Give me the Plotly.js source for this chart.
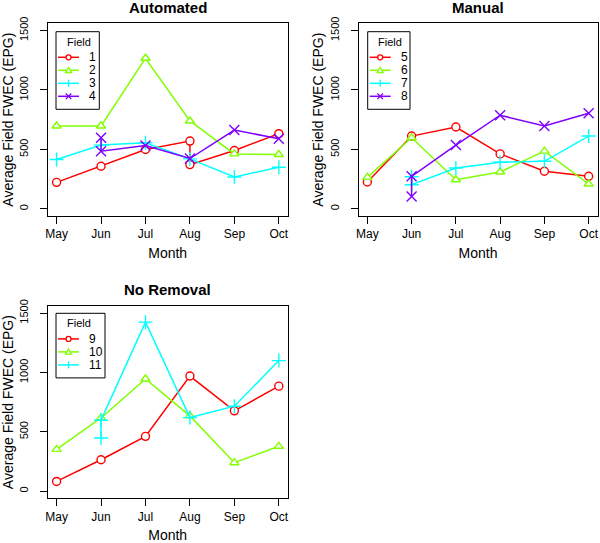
<!DOCTYPE html>
<html>
<head>
<meta charset="utf-8">
<script src="https://cdn.plot.ly/plotly-3.0.1.min.js"></script>
<style>html,body{margin:0;padding:0;background:#fff;}#chart{width:600px;height:543px;}</style>
</head>
<body>
<div id="chart"></div>
<script>
// ---- data ----
const months = ['May', 'Jun', 'Jul', 'Aug', 'Sep', 'Oct'];
const monthIdx = [1, 2, 3, 4, 5, 6];
const panelTitles = ['Automated', 'Manual', 'No Removal'];

// Automated
const f1x = [1, 2, 3, 4, 4, 5, 6];
const f1y = [223, 358, 499, 570, 372, 491, 632];
const f2x = [1, 2, 3, 4, 5, 6];
const f2y = [697, 697, 1266, 739, 462, 457];
const f3x = [1, 2, 3, 4, 5, 6];
const f3y = [415, 536, 556, 420, 268, 350];
const f4x = [2, 2, 3, 4, 5, 6];
const f4y = [598, 485, 532, 423, 663, 589];
// Manual
const f5x = [1, 2, 3, 4, 5, 6];
const f5y = [226, 612, 688, 462, 316, 274];
const f6x = [1, 2, 3, 4, 5, 6];
const f6y = [265, 598, 245, 310, 485, 209];
const f7x = [2, 2, 3, 4, 5, 6];
const f7y = [270, 203, 344, 392, 400, 612];
const f8x = [2, 2, 3, 4, 5, 6];
const f8y = [104, 274, 536, 787, 697, 804];
// No Removal
const f9x = [1, 2, 3, 4, 5, 6];
const f9y = [82, 265, 462, 970, 677, 885];
const f10x = [1, 2, 3, 4, 5, 6];
const f10y = [352, 617, 945, 634, 240, 378];
const f11x = [2, 2, 3, 4, 5, 6];
const f11y = [448, 598, 1424, 620, 716, 1100];

const yTicks = [0, 500, 1000, 1500];
const legendTitle = 'Field';
const panelFields = [['1', '2', '3', '4'], ['5', '6', '7', '8'], ['9', '10', '11']];

// ---- styles ----
const colors = ['#FF0000', '#80FF00', '#00FFFF', '#8000FF'];
const symbols = ['circle', 'triangle-up', 'cross-thin', 'x-thin'];
const W = 600, H = 543;
const fontFam = 'Liberation Sans, Arial, Helvetica, sans-serif';

function tr(name, x, y, k, xa, ya) {
  const filled = k < 2;
  return {
    type: 'scatter', mode: 'lines+markers', name: name,
    x: x, y: y, xaxis: xa, yaxis: ya, showlegend: false,
    line: {color: colors[k], width: 1.5},
    marker: {
      symbol: symbols[k], size: filled ? 8 : 10,
      color: filled ? '#ffffff' : colors[k],
      line: {color: colors[k], width: 1.4}
    }
  };
}

const data = [
  tr(panelFields[0][0], f1x, f1y, 0, 'x', 'y'),
  tr(panelFields[0][1], f2x, f2y, 1, 'x', 'y'),
  tr(panelFields[0][2], f3x, f3y, 2, 'x', 'y'),
  tr(panelFields[0][3], f4x, f4y, 3, 'x', 'y'),
  tr(panelFields[1][0], f5x, f5y, 0, 'x2', 'y2'),
  tr(panelFields[1][1], f6x, f6y, 1, 'x2', 'y2'),
  tr(panelFields[1][2], f7x, f7y, 2, 'x2', 'y2'),
  tr(panelFields[1][3], f8x, f8y, 3, 'x2', 'y2'),
  tr(panelFields[2][0], f9x, f9y, 0, 'x3', 'y3'),
  tr(panelFields[2][1], f10x, f10y, 1, 'x3', 'y3'),
  tr(panelFields[2][2], f11x, f11y, 2, 'x3', 'y3')
];

function xax(l, r, anchor) {
  return {
    anchor: anchor,
    domain: [l / W, r / W], range: [0.8, 6.2],
    tickmode: 'array', tickvals: monthIdx, ticktext: months,
    ticks: 'outside', ticklen: 7, tickcolor: '#000', tickwidth: 1,
    showline: true, linecolor: '#000', linewidth: 1, mirror: true,
    showgrid: false, zeroline: false,
    tickfont: {size: 12, color: '#000', family: fontFam},
    title: {text: 'Month', font: {size: 14, color: '#000', family: fontFam}, standoff: 7},
    automargin: false
  };
}
function yax(t, b, anchor) {
  return {
    anchor: anchor,
    domain: [1 - b / H, 1 - t / H], range: [-60, 1560],
    tickmode: 'array', tickvals: yTicks,
    ticks: 'outside', ticklen: 7, tickcolor: '#000', tickwidth: 1,
    tickangle: -90, ticklabelstandoff: 7,
    showline: true, linecolor: '#000', linewidth: 1, mirror: true,
    showgrid: false, zeroline: false,
    tickfont: {size: 11, color: '#000', family: fontFam},
    title: {text: 'Average Field FWEC (EPG)', font: {size: 14, color: '#000', family: fontFam}, standoff: 2},
    automargin: false
  };
}

// ---- hand-built legends (R style, compact) ----
const shapes = [];
const annotations = [];
const px = v => v / W, py = v => 1 - v / H;
function legendGlyph(k, cx, cy) {
  const c = colors[k];
  shapes.push({type: 'line', xref: 'paper', yref: 'paper', x0: px(cx - 10.5), x1: px(cx + 10.5), y0: py(cy), y1: py(cy), line: {color: c, width: 1.5}});
  if (k === 0) {
    shapes.push({type: 'circle', xref: 'paper', yref: 'paper', x0: px(cx - 2.5), x1: px(cx + 2.5), y0: py(cy + 2.5), y1: py(cy - 2.5), line: {color: c, width: 1.3}, fillcolor: '#fff'});
  } else if (k === 1) {
    shapes.push({type: 'path', xref: 'paper', yref: 'paper', path: `M ${px(cx - 3)} ${py(cy + 2.2)} L ${px(cx + 3)} ${py(cy + 2.2)} L ${px(cx)} ${py(cy - 3)} Z`, line: {color: c, width: 1.3}, fillcolor: '#fff'});
  } else if (k === 2) {
    shapes.push({type: 'path', xref: 'paper', yref: 'paper', path: `M ${px(cx)} ${py(cy - 3.5)} L ${px(cx)} ${py(cy + 3.5)}`, line: {color: c, width: 1.3}});
  } else {
    shapes.push({type: 'path', xref: 'paper', yref: 'paper', path: `M ${px(cx - 2.8)} ${py(cy - 2.8)} L ${px(cx + 2.8)} ${py(cy + 2.8)} M ${px(cx - 2.8)} ${py(cy + 2.8)} L ${px(cx + 2.8)} ${py(cy - 2.8)}`, line: {color: c, width: 1.3}});
  }
}
function buildLegend(fields, left, top, width) {
  const n = fields.length;
  const bottom = top + 25.6 + 13 * (n - 1) + 13;
  shapes.push({type: 'rect', xref: 'paper', yref: 'paper', x0: px(left), x1: px(left + width), y0: py(bottom), y1: py(top), line: {color: '#000', width: 1}, fillcolor: '#fff'});
  annotations.push({text: legendTitle, x: px(left + 22.5), y: py(top + 10), xref: 'paper', yref: 'paper', xanchor: 'center', yanchor: 'middle', showarrow: false, font: {size: 11, color: '#000', family: fontFam}});
  fields.forEach((f, i) => {
    const cy = top + 25.6 + 13 * i;
    legendGlyph(i, left + 12.5, cy);
    annotations.push({text: f, x: px(left + 31), y: py(cy), xref: 'paper', yref: 'paper', xanchor: 'left', yanchor: 'middle', showarrow: false, font: {size: 12, color: '#000', family: fontFam}});
  });
}
buildLegend(panelFields[0], 56, 31.7, 43.3);
buildLegend(panelFields[1], 367.7, 31.7, 42.3);
buildLegend(panelFields[2], 56, 313.3, 49);
// legend box and glyphs sit above the data lines
shapes.forEach(s => { s.layer = 'above'; });

annotations.push(
  {text: '<b>' + panelTitles[0] + '</b>', x: px(167.7), y: py(8), xref: 'paper', yref: 'paper', xanchor: 'center', yanchor: 'middle', showarrow: false, font: {size: 15, color: '#000', family: fontFam}},
  {text: '<b>' + panelTitles[1] + '</b>', x: px(478), y: py(8), xref: 'paper', yref: 'paper', xanchor: 'center', yanchor: 'middle', showarrow: false, font: {size: 15, color: '#000', family: fontFam}},
  {text: '<b>' + panelTitles[2] + '</b>', x: px(167.7), y: py(289), xref: 'paper', yref: 'paper', xanchor: 'center', yanchor: 'middle', showarrow: false, font: {size: 15, color: '#000', family: fontFam}}
);

const layout = {
  width: W, height: H,
  margin: {l: 0, r: 0, t: 0, b: 0},
  paper_bgcolor: '#fff', plot_bgcolor: '#fff',
  font: {family: fontFam, color: '#000'},
  showlegend: false,
  xaxis: xax(47.7, 287.7, 'y'), yaxis: yax(23.3, 216, 'x'),
  xaxis2: xax(358.5, 597.5, 'y2'), yaxis2: yax(23.3, 216, 'x2'),
  xaxis3: xax(47.7, 287.7, 'y3'), yaxis3: yax(306, 498.3, 'x3'),
  shapes: shapes,
  annotations: annotations
};

Plotly.newPlot('chart', data, layout, {displayModeBar: false, staticPlot: true});
</script>
</body>
</html>
